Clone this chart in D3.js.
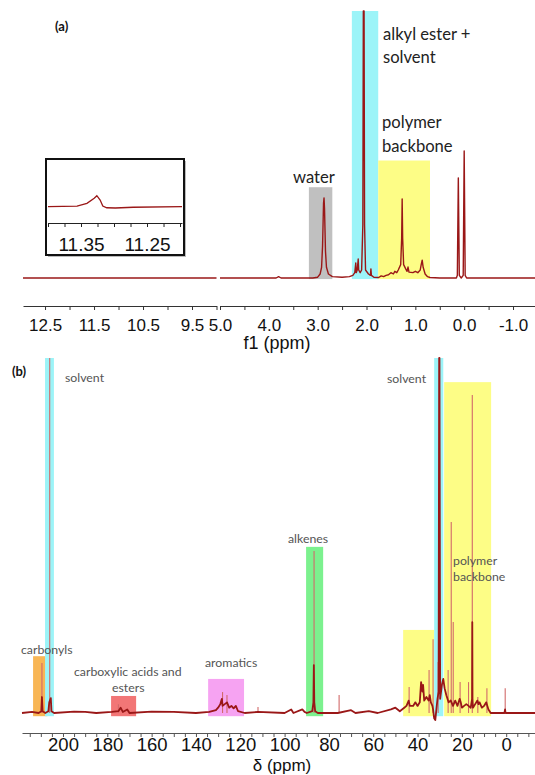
<!DOCTYPE html>
<html>
<head>
<meta charset="utf-8">
<script src="https://cdn.jsdelivr.net/npm/d3@7"></script>
<style>
  body { margin: 0; background: #fff; }
  svg { display: block; }
  .num { font-family: "Liberation Sans", Arial, sans-serif; fill: #111; }
  .lab { font-family: Lato, "Open Sans", sans-serif; }
</style>
</head>
<body>
<svg id="chart" width="535" height="775"></svg>
<script>
// ---------- panel (a) : 1H spectrum ----------
// [ppm, intensity]  (100 = tallest peak)
const hLeftSpectrum = [[12.95, 0], [11.8, 0], [11.0, 0], [9.0, 0]];
const hSpectrum = [
  [5.0, 0], [4.0, 0], [3.85, 0], [3.8, 0.5], [3.75, 0], [3.1, 0], [3.0, 0.3], [2.95, 1.5],
  [2.92, 4], [2.90, 12], [2.88, 28], [2.87, 30], [2.86, 26], [2.84, 10], [2.82, 4], [2.78, 1.5],
  [2.7, 0.5], [2.5, 0.3], [2.35, 0.5], [2.28, 1], [2.24, 2], [2.22, 5.6], [2.21, 2], [2.19, 3],
  [2.17, 7.1], [2.16, 3], [2.13, 2], [2.10, 3], [2.075, 20], [2.065, 100], [2.05, 100], [2.04, 20],
  [2.02, 3], [1.96, 1.5], [1.92, 1], [1.91, 3.4], [1.90, 1], [1.85, 0.3], [1.75, 0.2], [1.7, 0.8],
  [1.65, 0.5], [1.6, 1], [1.55, 1.2], [1.5, 2], [1.45, 1.5], [1.42, 2.5], [1.38, 2], [1.35, 3],
  [1.30, 5], [1.28, 15], [1.27, 29.6], [1.26, 15], [1.24, 5], [1.2, 3.5], [1.17, 2.5], [1.15, 4.1],
  [1.13, 2.2], [1.05, 2], [1.0, 2.5], [0.95, 2], [0.90, 3], [0.88, 5], [0.86, 6.7], [0.84, 4],
  [0.80, 1.5], [0.75, 0.5], [0.7, 0.2], [0.5, 0], [0.16, 0], [0.14, 1], [0.12, 37.5], [0.10, 1],
  [0.06, 0], [0.02, 1], [0.0, 47.6], [-0.02, 1], [-0.05, 0], [-1.45, 0]
];
// inset : [ppm, intensity]
const hInset = [
  [11.400, 1.1], [11.356, 1.6], [11.341, 3.8], [11.330, 7.9], [11.326, 10], [11.321, 6.5],
  [11.317, 1.6], [11.311, 0.2], [11.298, 0], [11.271, 0.6], [11.197, 1.1]
];
// highlighted regions : [from ppm, to ppm, top intensity, name]
const hBands = [
  [3.18, 2.70, 34, "water"],
  [2.30, 1.76, 100, "alkyl"],
  [1.76, 0.70, 44, "backbone"]
];
const hLeftTicks = [12.5, 11.5, 10.5, 9.5];
const hRightTicks = [5.0, 4.0, 3.0, 2.0, 1.0, 0.0, -1.0];
const hInsetTicks = [11.35, 11.25];

// ---------- panel (b) : 13C spectrum ----------
const cSpectrum = [
  [218.5, 0], [214, 0.3], [211, 0], [209.8, 0.5], [209.5, 4.5], [209.2, 0.5], [208, 0],
  [206.6, 0.5], [206.2, 3], [205.5, 4.2], [205.2, 0.5], [204, 0], [195, 0.4], [190, 0.3], [185, 0],
  [178, 0.3], [175, 0.5], [174, 1.5], [173, 0.3], [171, 1], [170, 0], [160, 0.4], [150, 0.3],
  [140, 0], [134, 0.3], [131, 0.8], [130, 1.5], [129, 2.5], [128.3, 4], [128, 2], [127, 2.5],
  [126, 3], [125, 1.5], [124, 2], [123, 1.3], [122, 2], [121, 0.5], [118, 0], [112, 0.3],
  [100, 0], [97, 1], [96, 0], [92, 1], [91, 0.3], [90, 0], [87.5, 0.5], [87, 3], [86.8, 13.5],
  [86.6, 3], [86.2, 0.5], [85, 0], [76, 0], [70, 0.8], [68, 0], [62, 0.5], [58, 0], [52, 1],
  [50, 1.5], [48, 0.5], [46, 1.5], [45, 2], [44, 3.5], [43.5, 2], [42, 2], [41, 3], [40, 2],
  [39, 3], [38.4, 8.7], [37.8, 6], [37.5, 7.9], [37, 3.5], [36, 4.5], [35, 3.5], [34.5, 5],
  [34, 3], [33.3, 2], [33, 1], [32.5, -1.5], [32, -2], [31.5, 1], [31, 4], [30.5, 6],
  [30.25, 100], [30.1, 100], [29.8, 4], [29, 8], [28.4, 9.6], [27.8, 7], [27, 5], [26.5, 4],
  [26, 3], [25, 3.5], [24, 2], [23, 3.5], [22, 2], [21, 4], [20.5, 3], [20, 1.5], [19, 2],
  [18, 2.5], [17, 2], [16, 1.5], [15.4, 4], [15.3, 25.6], [15.2, 4], [15, 1.5], [14, 2.5],
  [13, 3.5], [12.5, 2.5], [12, 3], [11, 1.5], [10, 2], [9, 3], [8.5, 2], [8, 1], [7, 0],
  [0.8, 0], [0.5, 1], [0.3, 0], [-13, 0]
];
// narrow tall lines : [ppm, intensity]
const cSharp = [
  [209.5, 14.1], [206, 100], [175, 2.5], [128, 5.9], [126, 5.1], [112, 1.7], [86.7, 45.6],
  [75.4, 5.1], [43.8, 7.3], [34.8, 12.1], [33, 20.8], [30.7, 14.4], [26.2, 12.1], [24.8, 53.8],
  [23.9, 25.6], [20.8, 8.7], [17.0, 8.7], [15.3, 89.6], [12.8, 4.5], [8.7, 7], [0.45, 7]
];
const cBands = [
  [213.5, 207.0, 16, "carbonyl"],
  [208.1, 204.1, 100, "solvent"],
  [178.3, 167.0, 4.8, "acid"],
  [134.5, 118.3, 9.6, "aromatic"],
  [90.3, 82.6, 46.8, "alkene"],
  [46.5, 32.5, 23.4, "backbone"],
  [32.5, 28.4, 100, "solvent"],
  [28.0, 6.8, 93.2, "backbone"]
];
const cTicks = [200, 180, 160, 140, 120, 100, 80, 60, 40, 20, 0];

const bandColor = {
  water: "#c0c0c0", alkyl: "#9cf4f8", backbone: "#fdfd86", solvent: "#9cf4f8",
  carbonyl: "#f8b655", acid: "#f27676", aromatic: "#f6a3f2", alkene: "#7cf18e"
};
const darkRed = "#9a1717";
const lightRed = "#d26a6a";

const svg = d3.select("#chart");

// ---------- scales ----------
const xHL = d3.scaleLinear().domain([12.95, 9.0]).range([23, 216.5]);
const xHR = d3.scaleLinear().domain([5.0, -1.45]).range([220, 535]);
const yH = d3.scaleLinear().domain([0, 100]).range([278, 11]);
const xIn = d3.scaleLinear().domain([11.40, 11.197]).range([48, 182]);
const yIn = d3.scaleLinear().domain([0, 10]).range([208, 195.7]);
const xC = d3.scaleLinear().domain([218.5, -13]).range([22, 535]);
const yC = d3.scaleLinear().domain([0, 100]).range([713, 358]);

// ---------- panel (a) ----------
svg.append("g").selectAll("rect").data(hBands).join("rect")
  .attr("x", d => xHR(d[0]))
  .attr("width", d => xHR(d[1]) - xHR(d[0]))
  .attr("y", d => yH(d[2]))
  .attr("height", d => yH(-0.4) - yH(d[2]))
  .attr("fill", d => bandColor[d[3]]);

let lineHL = d3.line().x(d => xHL(d[0])).y(d => yH(d[1]));
let lineHR = d3.line().x(d => xHR(d[0])).y(d => yH(d[1]));
svg.append("path").attr("d", lineHL(hLeftSpectrum))
  .attr("fill", "none").attr("stroke", darkRed).attr("stroke-width", 1.4);
svg.append("path").attr("d", lineHR(hSpectrum))
  .attr("fill", "none").attr("stroke", darkRed).attr("stroke-width", 1.4)
  .attr("stroke-linejoin", "round");

// axes for (a)
let axHL = d3.axisBottom(xHL).tickValues(d3.range(12.5, 8.9, -0.5)).tickSize(4).tickSizeOuter(0)
  .tickFormat(d => hLeftTicks.includes(d) ? d.toFixed(1) : "");
let axHR = d3.axisBottom(xHR).tickValues(d3.range(5.0, -1.6, -0.5)).tickSize(4).tickSizeOuter(0)
  .tickFormat(d => hRightTicks.some(t => Math.abs(t - d) < 1e-6) ? d.toFixed(1) : "");
[axHL, axHR].forEach(function(a) {
  let g = svg.append("g").attr("transform", "translate(0,306)").call(a);
  g.select(".domain").attr("stroke", "#333");
  g.selectAll(".tick line").attr("stroke", "#333");
  g.selectAll("text").attr("class", "num").attr("font-size", 17).attr("dy", "1.05em")
    .attr("fill", "#111");
});
svg.append("text").attr("class", "num").attr("x", 277).attr("y", 349)
  .attr("text-anchor", "middle").attr("font-size", 18).text("f1 (ppm)");

// inset
svg.append("rect").attr("x", 48).attr("y", 161).attr("width", 138).attr("height", 96)
  .attr("fill", "#bbb");
svg.append("rect").attr("x", 46).attr("y", 159).attr("width", 138).attr("height", 96)
  .attr("fill", "#fff").attr("stroke", "#111").attr("stroke-width", 2);
svg.append("path").attr("d", d3.line().x(d => xIn(d[0])).y(d => yIn(d[1]))(hInset))
  .attr("fill", "none").attr("stroke", darkRed).attr("stroke-width", 1.3);
let axIn = d3.axisBottom(xIn).tickValues(d3.range(11.4, 11.19, -0.025)).tickSize(4).tickSizeOuter(0)
  .tickFormat(d => hInsetTicks.some(t => Math.abs(t - d) < 1e-6) ? d.toFixed(2) : "");
let gIn = svg.append("g").attr("transform", "translate(0,223)").call(axIn);
gIn.select(".domain").attr("stroke", "#222");
gIn.selectAll(".tick line").attr("stroke", "#222");
gIn.selectAll("text").attr("class", "num").attr("font-size", 19).attr("dy", "1.1em").attr("fill", "#111");

// labels (a)
svg.append("text").attr("x", 55).attr("y", 31).attr("font-family", "Lato, sans-serif")
  .attr("font-weight", "bold").attr("font-size", 13).attr("fill", "#111").text("(a)");
const labA = [["water", 293, 183], ["alkyl ester +", 383, 40], ["solvent", 383, 63],
              ["polymer", 382, 128], ["backbone", 382, 152]];
svg.append("g").selectAll("text").data(labA).join("text")
  .attr("class", "lab").attr("font-size", 16.6).attr("fill", "#222")
  .attr("x", d => d[1]).attr("y", d => d[2]).text(d => d[0]);

// ---------- panel (b) ----------
svg.append("g").selectAll("rect").data(cBands).join("rect")
  .attr("x", d => xC(d[0]))
  .attr("width", d => xC(d[1]) - xC(d[0]))
  .attr("y", d => yC(d[2]))
  .attr("height", d => yC(-0.9) - yC(d[2]))
  .attr("fill", d => bandColor[d[3]]);

svg.append("g").selectAll("line").data(cSharp).join("line")
  .attr("x1", d => xC(d[0])).attr("x2", d => xC(d[0]))
  .attr("y1", yC(0)).attr("y2", d => yC(d[1]))
  .attr("stroke", lightRed).attr("stroke-width", 1.1);

svg.append("path").attr("d", d3.line().x(d => xC(d[0])).y(d => yC(d[1]))(cSpectrum))
  .attr("fill", "none").attr("stroke", darkRed).attr("stroke-width", 1.8)
  .attr("stroke-linejoin", "round");

let axC = d3.axisBottom(xC).tickValues(d3.range(215, -11, -5)).tickSize(4).tickSizeOuter(0)
  .tickFormat(d => cTicks.includes(d) ? d : "");
let gC = svg.append("g").attr("transform", "translate(0,733)").call(axC);
gC.select(".domain").attr("stroke", "#555");
gC.selectAll(".tick line").attr("stroke", "#555");
gC.selectAll("text").attr("class", "num").attr("font-size", 18.5).attr("dy", "0.62em").attr("fill", "#111");
svg.append("text").attr("class", "num").attr("x", 282).attr("y", 771.2)
  .attr("text-anchor", "middle").attr("font-size", 17).text("δ (ppm)");

svg.append("text").attr("x", 12).attr("y", 376).attr("font-family", "Lato, sans-serif")
  .attr("font-weight", "bold").attr("font-size", 13).attr("fill", "#111").text("(b)");
const labB = [["solvent", 65, 382], ["solvent", 387, 383], ["carbonyls", 21, 654],
              ["carboxylic acids and", 74, 676], ["esters", 112, 692], ["aromatics", 205, 667],
              ["alkenes", 288, 543], ["polymer", 453, 565], ["backbone", 453, 581]];
svg.append("g").selectAll("text").data(labB).join("text")
  .attr("class", "lab").attr("font-size", 12.3).attr("fill", "#555")
  .attr("x", d => d[1]).attr("y", d => d[2]).text(d => d[0]);
</script>
</body>
</html>
